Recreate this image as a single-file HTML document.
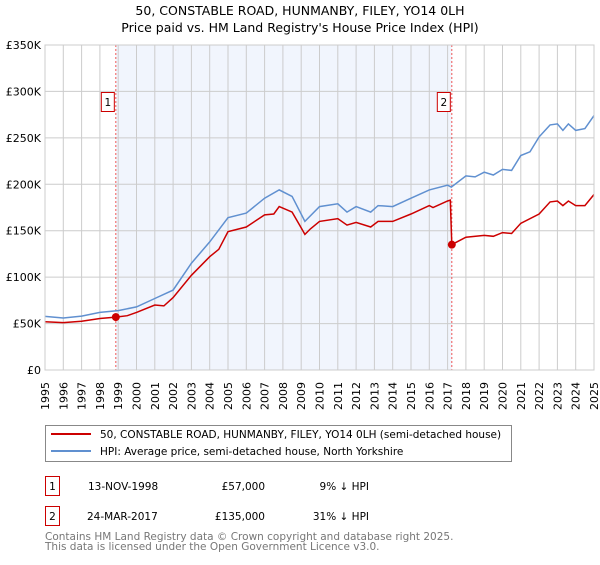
<!DOCTYPE html>
<html><head><meta charset="utf-8"><style>
body{margin:0;background:#fff;font-family:"Liberation Sans","DejaVu Sans",sans-serif;}
svg text{font-family:"DejaVu Sans","Liberation Sans",sans-serif;}
</style></head><body>
<svg id="c" width="600" height="560" xmlns="http://www.w3.org/2000/svg">
<text x="300" y="15" text-anchor="middle" font-size="12.5">50, CONSTABLE ROAD, HUNMANBY, FILEY, YO14 0LH</text>
<text x="300" y="32" text-anchor="middle" font-size="12.5">Price paid vs. HM Land Registry's House Price Index (HPI)</text>
<g id="plot"></g>
<g>
<rect x="45.5" y="425.5" width="466" height="36" fill="#fff" stroke="#888"/>
<line x1="51" y1="434" x2="91" y2="434" stroke="#cc0000" stroke-width="2"/>
<text x="100" y="438" font-size="10.5">50, CONSTABLE ROAD, HUNMANBY, FILEY, YO14 0LH (semi-detached house)</text>
<line x1="51" y1="451" x2="91" y2="451" stroke="#6090d0" stroke-width="2"/>
<text x="100" y="455" font-size="10.5">HPI: Average price, semi-detached house, North Yorkshire</text>
</g>
<g font-size="10.5">
<rect x="45.5" y="476.5" width="14" height="19" fill="none" stroke="#cc0000"/>
<text x="52.5" y="490" text-anchor="middle">1</text>
<text x="88" y="490">13-NOV-1998</text>
<text x="265" y="490" text-anchor="end">£57,000</text>
<text x="369" y="490" text-anchor="end">9% ↓ HPI</text>
<rect x="45.5" y="506.5" width="14" height="19" fill="none" stroke="#cc0000"/>
<text x="52.5" y="520" text-anchor="middle">2</text>
<text x="87" y="520">24-MAR-2017</text>
<text x="265" y="520" text-anchor="end">£135,000</text>
<text x="369" y="520" text-anchor="end">31% ↓ HPI</text>
</g>
<text x="45" y="540" font-size="10.5" fill="#777">Contains HM Land Registry data © Crown copyright and database right 2025.</text>
<text x="45" y="550" font-size="10.5" fill="#777">This data is licensed under the Open Government Licence v3.0.</text>
</svg>
<script>
const hpiYears=[1995,1996,1997,1998,1999,2000,2001,2002,2003,2004,2005,2006,2007,2007.8,2008.5,2009.2,2010,2011,2011.5,2012,2012.8,2013.2,2014,2015,2016,2017,2017.2,2018,2018.5,2019,2019.5,2020,2020.5,2021,2021.5,2022,2022.6,2023,2023.3,2023.6,2024,2024.5,2025];
const hpiValues=[57.7,56,58,62,64,68,77,86,115,138,164,169,185,194,187,160,176,179,170,176,170,177,176,185,194,199,197,209,208,213,210,216,215,231,235,251,264,265,258,265,258,260,274];
const redYears=[1995,1996,1997,1998,1998.87,1999.5,2000,2001,2001.5,2002,2003,2004,2004.5,2005,2006,2007,2007.5,2007.8,2008.5,2009,2009.2,2009.5,2010,2011,2011.5,2012,2012.8,2013.2,2014,2015,2016,2016.2,2017,2017.15,2017.23,2018,2019,2019.5,2020,2020.5,2021,2022,2022.6,2023,2023.3,2023.6,2024,2024.5,2025];
const redValues=[52,51,52.5,55.5,57,58.5,62,70,69,78,102,122,130,149,154,167,168,176,170,153,146,152,160,163,156,159,154,160,160,168,177,175,182,183,135,143,145,144,148,147,158,168,181,182,177,182,177,177,189];
const saleYears=[1998.87,2017.23];
const saleValues=[57,135];
const saleLabels=["1","2"];
const yTicks=[0,50,100,150,200,250,300,350];
const yTickLabels=["£0","£50K","£100K","£150K","£200K","£250K","£300K","£350K"];
const xTicks=[];for(let y=1995;y<=2025;y++)xTicks.push(y);

const L=45,R=594,T=45,B=370;
const x=v=>L+(v-1995)/30*(R-L);
const y=v=>B-v/350*(B-T);
const NS="http://www.w3.org/2000/svg";
const g=document.getElementById('plot');
function mk(t,a,p){const e=document.createElementNS(NS,t);for(const k in a)e.setAttribute(k,a[k]);(p||g).appendChild(e);return e;}
const bg=mk('rect',{x:L,y:T,width:R-L,height:B-T,fill:'#fff'});


const sh=mk('rect',{x:x(saleYears[0]),y:T,width:x(saleYears[1])-x(saleYears[0]),height:B-T,fill:'#eef3fc',opacity:0.8});


xTicks.forEach(v=>{
 const l=mk('line',{x1:x(v),x2:x(v),y1:T,y2:B,stroke:'#ccc','stroke-width':1});
 
 
 const t=mk('text',{transform:`translate(${x(v)+4},${B+40}) rotate(-90)`,'font-size':11});
 t.textContent=v;
 
 
});
yTicks.forEach((v,i)=>{
 const l=mk('line',{x1:L,x2:R,y1:y(v),y2:y(v),stroke:'#ccc','stroke-width':1});
 
 
 const t=mk('text',{x:L-4,y:y(v)+4,'text-anchor':'end','font-size':11});
 t.textContent=yTickLabels[i];
 
 
});
saleYears.forEach((s,i)=>{
 const l=mk('line',{x1:x(s),x2:x(s),y1:T,y2:B,stroke:'#e55','stroke-width':1,'stroke-dasharray':'2,2'});
 
 
 const bx=x(s)-14;
 const r=mk('rect',{x:bx-0.5,y:92.5,width:13,height:19,fill:'#fff',stroke:'#cc0000'});
 
 
 const t=mk('text',{x:bx+6,y:106,'text-anchor':'middle','font-size':10.5});
 t.textContent=saleLabels[i];
 
 
});
const pts=(xs,vs)=>xs.map((v,i)=>x(v).toFixed(1)+','+y(vs[i]).toFixed(1)).join(' ');
const h=mk('polyline',{points:pts(hpiYears,hpiValues),fill:'none',stroke:'#6090d0','stroke-width':1.5});


const rl=mk('polyline',{points:pts(redYears,redValues),fill:'none',stroke:'#cc0000','stroke-width':1.5});


saleYears.forEach((s,i)=>{
 const c=mk('circle',{cx:x(s),cy:y(saleValues[i]),r:4,fill:'#cc0000'});
 
 
});
const ax=mk('rect',{x:L,y:T,width:R-L,height:B-T,fill:'none',stroke:'#ccc'});


</script>
</body></html>
